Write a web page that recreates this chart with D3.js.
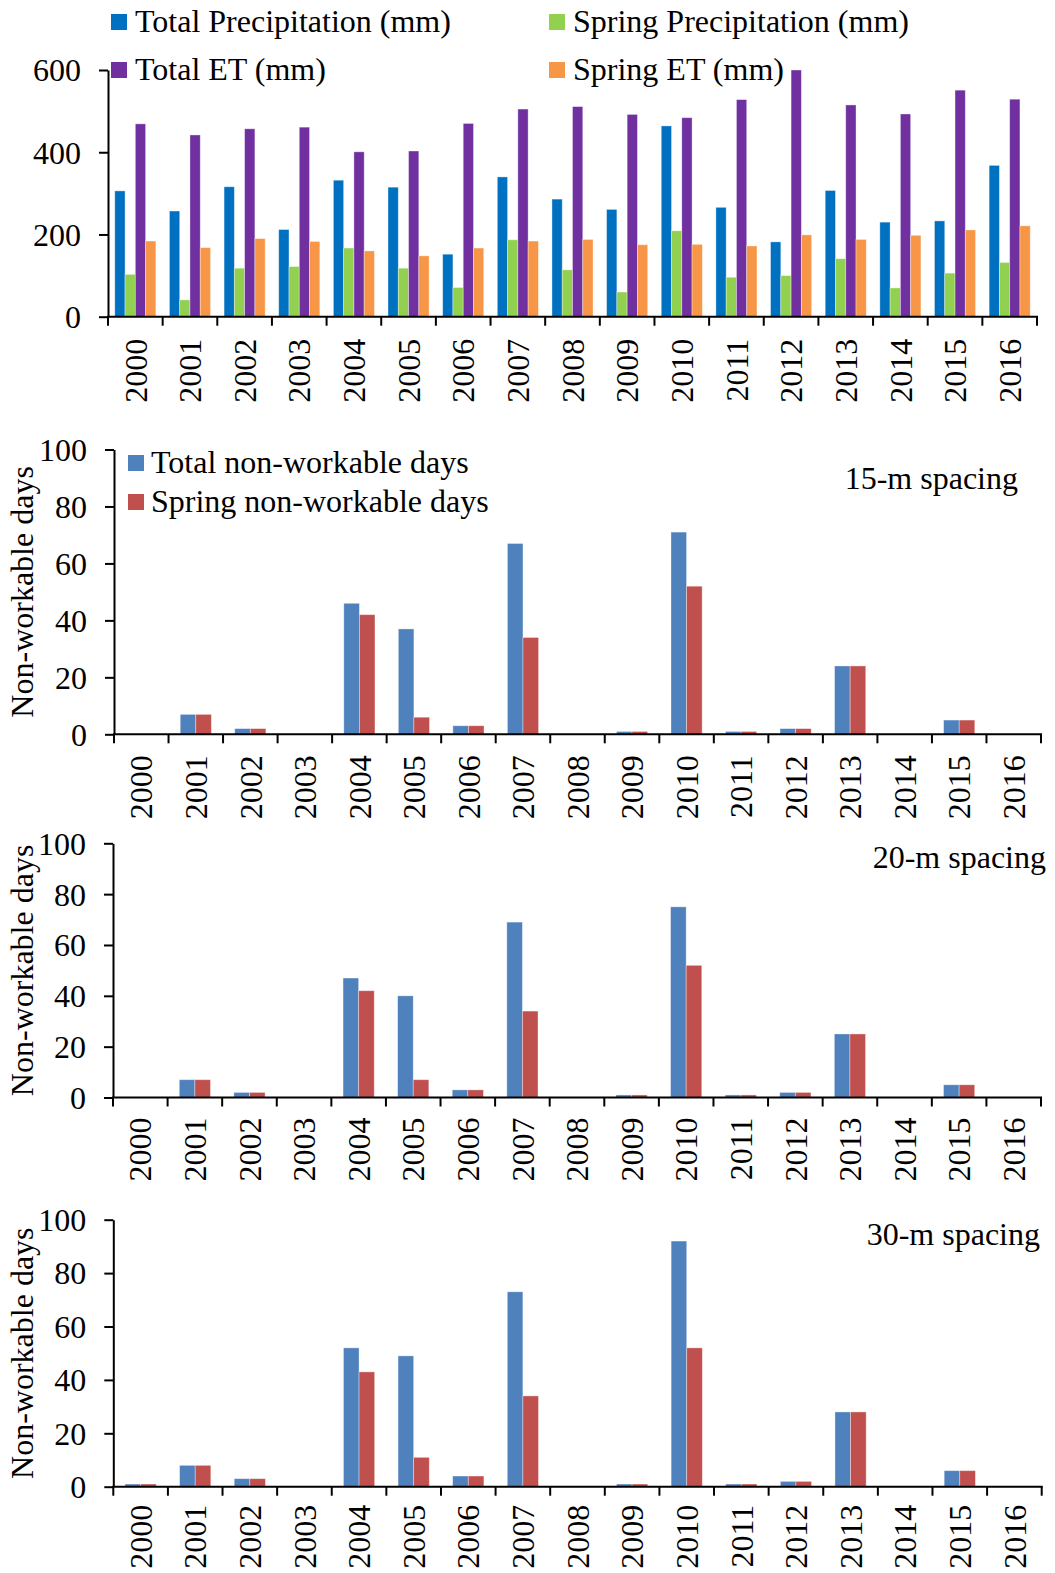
<!DOCTYPE html>
<html>
<head>
<meta charset="utf-8">
<script src="https://cdn.jsdelivr.net/npm/d3@7"></script>
<style>
  html, body { margin: 0; padding: 0; background: #fff; }
  svg { display: block; }
  text { font-family: "Liberation Serif", "Times New Roman", serif; fill: #000; }
</style>
</head>
<body>
<svg id="chart" width="1055" height="1573"></svg>
<script>
// Years on the x axis of every panel
const years = ["2000","2001","2002","2003","2004","2005","2006","2007","2008",
               "2009","2010","2011","2012","2013","2014","2015","2016"];

// Panel 1: water balance (mm)
const totalPrecip  = [306, 257, 316, 212, 332, 315, 152, 340, 286, 261, 464, 266, 182, 307, 230, 233, 368];
const springPrecip = [103, 41, 118, 122, 167, 118, 71, 187, 114, 60, 209, 96, 100, 141, 70, 106, 132];
const totalET      = [469, 442, 457, 461, 401, 403, 470, 505, 511, 492, 484, 528, 600, 515, 493, 551, 529];
const springET     = [184, 168, 190, 183, 160, 148, 167, 184, 188, 175, 176, 172, 199, 188, 198, 211, 221];
const waterTicks   = [0, 200, 400, 600];

// Panels 2-4: non-workable days by drain spacing
const total15  = [0, 7, 2, 0, 46, 37, 3, 67, 0, 1, 71, 1, 2, 24, 0, 5, 0];
const spring15 = [0, 7, 2, 0, 42, 6, 3, 34, 0, 1, 52, 1, 2, 24, 0, 5, 0];
const total20  = [0, 7, 2, 0, 47, 40, 3, 69, 0, 1, 75, 1, 2, 25, 0, 5, 0];
const spring20 = [0, 7, 2, 0, 42, 7, 3, 34, 0, 1, 52, 1, 2, 25, 0, 5, 0];
const total30  = [1, 8, 3, 0, 52, 49, 4, 73, 0, 1, 92, 1, 2, 28, 0, 6, 0];
const spring30 = [1, 8, 3, 0, 43, 11, 4, 34, 0, 1, 52, 1, 2, 28, 0, 6, 0];
const dayTicks = [0, 20, 40, 60, 80, 100];

const svg = d3.select("#chart");
svg.append("rect").attr("width", 1055).attr("height", 1573).attr("fill", "#fff");

const FS = 32;

// Draws one grouped bar panel with its axes
function panel(opts) {
  const g = svg.append("g");
  const x = d3.scaleBand().domain(years).range([opts.x0, opts.x1]).paddingInner(0).paddingOuter(0);
  const y = d3.scaleLinear().domain([0, opts.ymax]).range([opts.yBottom, opts.yTop]);
  const keys = opts.series.map(s => s.name);
  const xs = d3.scaleBand().domain(keys)
    .range([0, x.bandwidth()]).paddingOuter(opts.outer).paddingInner(0);

  // bars
  opts.series.forEach(s => {
    g.append("g").selectAll("rect").data(s.values).join("rect")
      .attr("x", (d, i) => x(years[i]) + xs(s.name))
      .attr("y", d => y(d))
      .attr("width", xs.bandwidth())
      .attr("height", d => y(0) - y(d))
      .attr("fill", s.color)
      .attr("stroke", "#ffffff")
      .attr("stroke-opacity", 0.45)
      .attr("stroke-width", 0.8);
  });

  // y axis
  const ya = g.append("g").attr("transform", `translate(${opts.x0},0)`)
    .call(d3.axisLeft(y).tickValues(opts.ticks).tickSize(9).tickPadding(18).tickSizeOuter(0));
  ya.attr("font-family", null);
  ya.select(".domain").attr("stroke", "#000").attr("stroke-width", 2);
  ya.selectAll(".tick line").attr("stroke", "#000").attr("stroke-width", 2);
  ya.selectAll(".tick text").attr("font-size", FS).attr("dy", "0.34em");

  // x axis line with boundary ticks
  const xa = g.append("g").attr("transform", `translate(0,${opts.yBottom})`);
  xa.append("line").attr("x1", opts.x0 - 1).attr("x2", opts.x1 + 1)
    .attr("stroke", "#000").attr("stroke-width", 2);
  const bounds = years.map(d => x(d)).concat([x(years[years.length - 1]) + x.bandwidth()]);
  xa.selectAll("line.b").data(bounds).join("line").attr("class", "b")
    .attr("x1", d => d).attr("x2", d => d).attr("y1", 0).attr("y2", 9)
    .attr("stroke", "#000").attr("stroke-width", 2);
  xa.selectAll("text").data(years).join("text")
    .attr("transform", d => `translate(${x(d) + x.bandwidth() / 2},${opts.labelGap}) rotate(-90)`)
    .attr("text-anchor", "end")
    .attr("dy", "0.35em")
    .attr("font-size", FS)
    .text(d => d);

  if (opts.yTitle) {
    g.append("text")
      .attr("transform", `translate(33,${(opts.yTop + opts.yBottom) / 2}) rotate(-90)`)
      .attr("text-anchor", "middle")
      .attr("font-size", FS)
      .text(opts.yTitle);
  }
  if (opts.note) {
    g.append("text").attr("x", opts.note.x).attr("y", opts.note.y)
      .attr("text-anchor", "end").attr("font-size", FS).text(opts.note.text);
  }
  return g;
}

function legendItem(x, y, color, label) {
  svg.append("rect").attr("x", x).attr("y", y).attr("width", 16).attr("height", 16).attr("fill", color);
  svg.append("text").attr("x", x + 24).attr("y", y + 18).attr("font-size", FS).text(label);
}

// Panel 1: precipitation and ET
panel({
  x0: 108, x1: 1037, yTop: 70, yBottom: 316.7, ymax: 600, ticks: waterTicks,
  outer: 0.66, labelGap: 22,
  series: [
    { name: "tp", values: totalPrecip,  color: "#0070C0" },
    { name: "sp", values: springPrecip, color: "#92D050" },
    { name: "te", values: totalET,      color: "#7030A0" },
    { name: "se", values: springET,     color: "#F79646" }
  ]
});
legendItem(111, 14, "#0070C0", "Total Precipitation (mm)");
legendItem(549, 14, "#92D050", "Spring Precipitation (mm)");
legendItem(111, 62, "#7030A0", "Total ET (mm)");
legendItem(549, 62, "#F79646", "Spring ET (mm)");

const blue = "#4F81BD", red = "#C0504D";

// Panel 2: 15-m spacing
panel({
  x0: 114, x1: 1041, yTop: 449.5, yBottom: 734.3, ymax: 100, ticks: dayTicks,
  outer: 0.75, labelGap: 21, yTitle: "Non-workable days",
  note: { x: 1018, y: 489, text: "15-m spacing" },
  series: [
    { name: "t", values: total15,  color: blue },
    { name: "s", values: spring15, color: red }
  ]
});
svg.append("rect").attr("x", 128).attr("y", 455).attr("width", 16).attr("height", 16).attr("fill", blue);
svg.append("text").attr("x", 151).attr("y", 473).attr("font-size", FS).text("Total non-workable days");
svg.append("rect").attr("x", 128).attr("y", 494).attr("width", 16).attr("height", 16).attr("fill", red);
svg.append("text").attr("x", 151).attr("y", 512).attr("font-size", FS).text("Spring non-workable days");

// Panel 3: 20-m spacing
panel({
  x0: 113, x1: 1041, yTop: 843.3, yBottom: 1097.5, ymax: 100, ticks: dayTicks,
  outer: 0.75, labelGap: 20, yTitle: "Non-workable days",
  note: { x: 1046, y: 868, text: "20-m spacing" },
  series: [
    { name: "t", values: total20,  color: blue },
    { name: "s", values: spring20, color: red }
  ]
});

// Panel 4: 30-m spacing
panel({
  x0: 113.3, x1: 1041.7, yTop: 1219.7, yBottom: 1486.7, ymax: 100, ticks: dayTicks,
  outer: 0.75, labelGap: 18, yTitle: "Non-workable days",
  note: { x: 1040, y: 1245, text: "30-m spacing" },
  series: [
    { name: "t", values: total30,  color: blue },
    { name: "s", values: spring30, color: red }
  ]
});
</script>
</body>
</html>
